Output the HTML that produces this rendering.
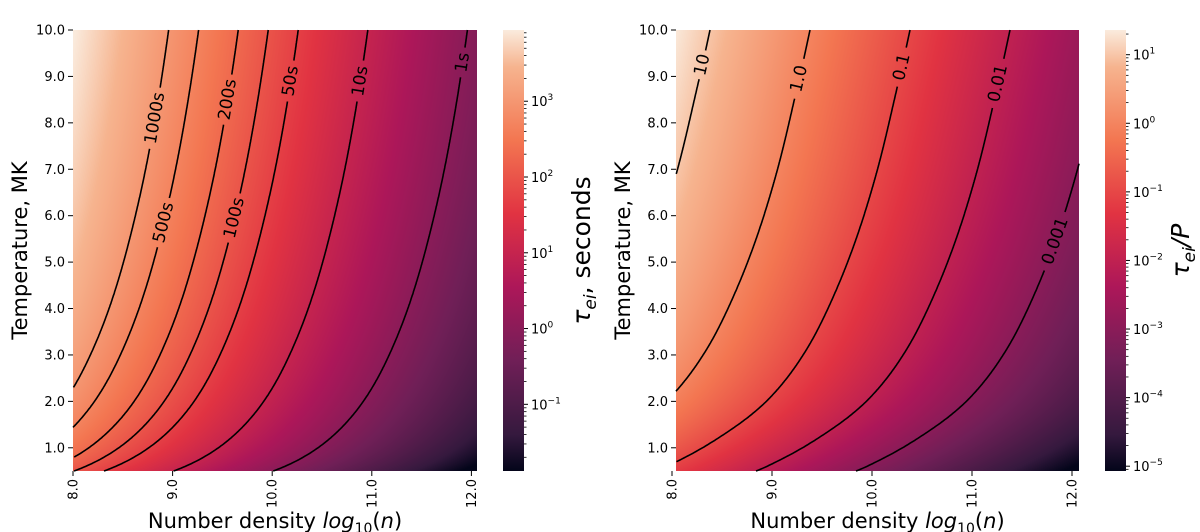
<!DOCTYPE html>
<html><head><meta charset="utf-8">
<style>
html,body{margin:0;padding:0;background:#fff;width:1200px;height:532px;overflow:hidden}
#wrap{position:relative;width:1200px;height:532px}
canvas{position:absolute}
svg{position:absolute;left:0;top:0}
text{font-family:"DejaVu Sans","Liberation Sans",sans-serif;fill:#000}
</style></head>
<body>
<div id="wrap">
<canvas id="hmL"></canvas>
<canvas id="hmR"></canvas>
<svg id="svg" width="1200" height="532"></svg>
</div>
<script>
// ---- data ----
const tempKnots = [0.5, 0.76, 1.22, 2.08, 3.17, 4.24, 5.68, 7.12, 8.56, 10];
// log10(tau) + log10(n) as function of T (left panel)
const leftOffset = [10.01, 10.28, 10.59, 10.94, 11.21, 11.40, 11.59, 11.74, 11.86, 11.96];
// log10(tau/P) + log10(n) as function of T (right panel)
const rightOffset = [6.84, 7.10, 7.47, 7.98, 8.36, 8.61, 8.87, 9.07, 9.23, 9.38];
const leftLevels = [1000, 500, 200, 100, 50, 10, 1];
const leftLevelLabels = ["1000s", "500s", "200s", "100s", "50s", "10s", "1s"];
const leftLabelTemps = [8.1, 5.85, 8.5, 5.95, 8.9, 8.9, 9.3];
const rightLevels = [10, 1, 0.1, 0.01, 0.001];
const rightLevelLabels = ["10", "1.0", "0.1", "0.01", "0.001"];
const rightLabelTemps = [9.25, 8.95, 9.2, 8.85, 5.45];
const yTicks = [1, 2, 3, 4, 5, 6, 7, 8, 9, 10];
const yTickLabels = ["1.0", "2.0", "3.0", "4.0", "5.0", "6.0", "7.0", "8.0", "9.0", "10.0"];
const xTicks = [8, 9, 10, 11, 12];
const xTickLabels = ["8.0", "9.0", "10.0", "11.0", "12.0"];
const leftCbarExps = [-1, 0, 1, 2, 3];
const rightCbarExps = [-5, -4, -3, -2, -1, 0, 1];

// ---- helpers ----
const NS = "http://www.w3.org/2000/svg";
const svg = document.getElementById('svg');
function mk(tag, attrs, parent) {
  const e = document.createElementNS(NS, tag);
  for (const k in attrs) e.setAttribute(k, attrs[k]);
  (parent || svg).appendChild(e);
  return e;
}
// monotone cubic interpolation in log10(T)
function makeInterp(xsRaw, ys) {
  const xs = xsRaw.map(v => Math.log10(v));
  const n = xs.length, d = [], m = new Array(n);
  for (let i = 0; i < n - 1; i++) d.push((ys[i + 1] - ys[i]) / (xs[i + 1] - xs[i]));
  m[0] = d[0]; m[n - 1] = d[n - 2];
  for (let i = 1; i < n - 1; i++) m[i] = (d[i - 1] * d[i] <= 0) ? 0 : (d[i - 1] + d[i]) / 2;
  return function (T) {
    const x = Math.log10(T);
    if (x <= xs[0]) return ys[0] + m[0] * (x - xs[0]);
    if (x >= xs[n - 1]) return ys[n - 1] + m[n - 1] * (x - xs[n - 1]);
    let i = 0; while (x > xs[i + 1]) i++;
    const h = xs[i + 1] - xs[i], t = (x - xs[i]) / h;
    const h00 = 2 * t * t * t - 3 * t * t + 1, h10 = t * t * t - 2 * t * t + t, h01 = -2 * t * t * t + 3 * t * t, h11 = t * t * t - t * t;
    return h00 * ys[i] + h10 * h * m[i] + h01 * ys[i + 1] + h11 * h * m[i + 1];
  };
}
const rocketStops = [[0, [3, 5, 26]], [0.083, [53, 25, 62]], [0.25, [112, 31, 87]], [0.417, [173, 23, 89]], [0.583, [225, 51, 66]], [0.75, [243, 118, 81]], [0.917, [246, 180, 143]], [1, [250, 235, 221]]];
function rocket(t) {
  t = Math.max(0, Math.min(1, t));
  for (let i = 0; i < rocketStops.length - 1; i++) {
    const [a, ca] = rocketStops[i], [b, cb] = rocketStops[i + 1];
    if (t <= b) { const f = (t - a) / (b - a); return ca.map((c, k) => Math.round(c + (cb[k] - c) * f)); }
  }
  return rocketStops[rocketStops.length - 1][1];
}

function panel(cfg) {
  const g = makeInterp(tempKnots, cfg.offsets);
  const xS = n => cfg.x8 + (n - 8) * cfg.pxPerN;
  const yS = T => cfg.top + (10 - T) * (cfg.bottom - cfg.top) / 9.5;
  const nAt = x => 8 + (x - cfg.x8) / cfg.pxPerN;
  const TAt = y => 10 - (y - cfg.top) * 9.5 / (cfg.bottom - cfg.top);
  const W = cfg.right - cfg.left, H = cfg.bottom - cfg.top;
  const cv = document.getElementById(cfg.canvas);
  cv.width = W; cv.height = H;
  cv.style.left = cfg.left + 'px'; cv.style.top = cfg.top + 'px';
  const ctx = cv.getContext('2d');
  const img = ctx.createImageData(W, H);
  for (let py = 0; py < H; py++) {
    const gv = g(TAt(cfg.top + py + 0.5));
    for (let px = 0; px < W; px++) {
      const v = gv - nAt(cfg.left + px + 0.5);
      const c = rocket((v - cfg.vmin) / (cfg.vmax - cfg.vmin));
      const k = (py * W + px) * 4;
      img.data[k] = c[0]; img.data[k + 1] = c[1]; img.data[k + 2] = c[2]; img.data[k + 3] = 255;
    }
  }
  ctx.putImageData(img, 0, 0);
  const cg = mk('g', {});
  
  
  cfg.levels.forEach((lev, i) => {
    const L = Math.log10(lev);
    const pts = [];
    for (let T = 0.5; T <= 10.0001; T += 0.02) {
      const n = g(T) - L;
      const x = xS(n), y = yS(T);
      if (x >= cfg.left && x <= cfg.right) pts.push([x, y]);
    }
    const Tl = cfg.labelTemps[i];
    const lx = xS(g(Tl) - L), ly = yS(Tl);
    const lx2 = xS(g(Tl + 0.05) - L), ly2 = yS(Tl + 0.05);
    let ang = Math.atan2(ly2 - ly, lx2 - lx) * 180 / Math.PI;
    if (ang > 90) ang -= 180; if (ang < -90) ang += 180;
    const label = cfg.labels[i];
    const half = label.length * 5.3 + 4;
    const segs = []; let cur = [];
    pts.forEach(p => {
      if (Math.hypot(p[0] - lx, p[1] - ly) < half) { if (cur.length > 1) segs.push(cur); cur = []; }
      else cur.push(p);
    });
    if (cur.length > 1) segs.push(cur);
    segs.forEach(s => {
      const p = mk('path', { d: 'M' + s.map(q => q[0].toFixed(1) + ',' + q[1].toFixed(1)).join('L'), fill: 'none', stroke: '#000', 'stroke-width': 1.6 }, cg);
      
      
    });
    const t = mk('text', { x: lx, y: ly, 'font-size': 17, 'text-anchor': 'middle', 'dominant-baseline': 'central', transform: `rotate(${ang.toFixed(1)} ${lx.toFixed(1)} ${ly.toFixed(1)})` }, cg);
    t.textContent = label;
    
    
  });
  const ax = mk('g', {});
  
  
  yTicks.forEach((T, i) => {
    const y = yS(T);
    mk('line', { x1: cfg.left - 5, x2: cfg.left, y1: y, y2: y, stroke: '#000', 'stroke-width': 1 }, ax);
    const t = mk('text', { x: cfg.left - 8, y: y + 4.5, 'font-size': 13, 'text-anchor': 'end' }, ax);
    t.textContent = yTickLabels[i];
    
    
  });
  xTicks.forEach((n, i) => {
    const x = xS(n);
    mk('line', { x1: x, x2: x, y1: cfg.bottom, y2: cfg.bottom + 5, stroke: '#000', 'stroke-width': 1 }, ax);
    const t = mk('text', { x: x + 4.5, y: cfg.bottom + 8, 'font-size': 13, 'text-anchor': 'end', transform: `rotate(-90 ${x + 4.5} ${cfg.bottom + 8})` }, ax);
    t.textContent = xTickLabels[i];
    
    
  });
  const yt = mk('text', { x: 0, y: 0, 'font-size': 21, 'text-anchor': 'middle', transform: `translate(${cfg.left - 46} ${(cfg.top + cfg.bottom) / 2}) rotate(-90)` }, ax);
  yt.textContent = 'Temperature, MK';
  
  
  const xt = mk('text', { x: (cfg.left + cfg.right) / 2, y: 528, 'font-size': 21, 'text-anchor': 'middle' }, ax);
  xt.innerHTML = 'Number density <tspan font-style="italic">log</tspan><tspan font-size="14" dy="5">10</tspan><tspan dy="-5">(</tspan><tspan font-style="italic">n</tspan>)';
  
  
  const cb = mk('g', {});
  
  
  const gid = cfg.prefix + '-grad';
  const defs = mk('defs', {}, cb);
  const lg = mk('linearGradient', { id: gid, x1: 0, y1: 1, x2: 0, y2: 0 }, defs);
  rocketStops.forEach(s => mk('stop', { offset: s[0], 'stop-color': `rgb(${s[1].join(',')})` }, lg));
  mk('rect', { x: cfg.cbx, y: cfg.top, width: 21, height: H, fill: `url(#${gid})` }, cb);
  const cy = v => cfg.bottom - (v - cfg.vmin) / (cfg.vmax - cfg.vmin) * H;
  const cx = cfg.cbx + 21;
  for (let e = Math.floor(cfg.vmin); e <= Math.ceil(cfg.vmax); e++) {
    for (let k = 2; k <= 9; k++) {
      const v = e + Math.log10(k);
      if (v < cfg.vmin || v > cfg.vmax) continue;
      mk('line', { x1: cx, x2: cx + 2.5, y1: cy(v), y2: cy(v), stroke: '#000', 'stroke-width': 0.8 }, cb);
    }
  }
  cfg.exps.forEach(e => {
    const y = cy(e);
    mk('line', { x1: cx, x2: cx + 4, y1: y, y2: y, stroke: '#000', 'stroke-width': 1 }, cb);
    const t = mk('text', { x: cx + 7, y: y + 5, 'font-size': 13 }, cb);
    t.innerHTML = '10<tspan font-size="9" dy="-6">' + (e < 0 ? '\u2212' + (-e) : e) + '</tspan>';
    
    
  });
  const ct = mk('text', { x: 0, y: 0, 'font-size': 25, 'text-anchor': 'middle', transform: `translate(${cfg.cbTitleX} ${(cfg.top + cfg.bottom) / 2}) rotate(-90)` }, cb);
  ct.innerHTML = cfg.cbTitle;
  
  
}

panel({ prefix: 'left', canvas: 'hmL', offsets: leftOffset, levels: leftLevels, labels: leftLevelLabels, labelTemps: leftLabelTemps,
  left: 73, right: 477, top: 30, bottom: 471, x8: 73, pxPerN: 99.6, vmin: -1.88, vmax: 3.94, exps: leftCbarExps,
  cbx: 503, cbTitleX: 590, cbTitle: '<tspan font-style="italic">τ</tspan><tspan font-style="italic" font-size="17" dy="6">ei</tspan><tspan dy="-6">, seconds</tspan>' });
panel({ prefix: 'right', canvas: 'hmR', offsets: rightOffset, levels: rightLevels, labels: rightLevelLabels, labelTemps: rightLabelTemps,
  left: 676, right: 1079, top: 30, bottom: 471, x8: 672, pxPerN: 100, vmin: -5.07, vmax: 1.36, exps: rightCbarExps,
  cbx: 1105, cbTitleX: 1189, cbTitle: '<tspan font-style="italic">τ</tspan><tspan font-style="italic" font-size="17" dy="6">ei</tspan><tspan font-style="italic" dy="-6">/P</tspan>' });
</script>
</body></html>
